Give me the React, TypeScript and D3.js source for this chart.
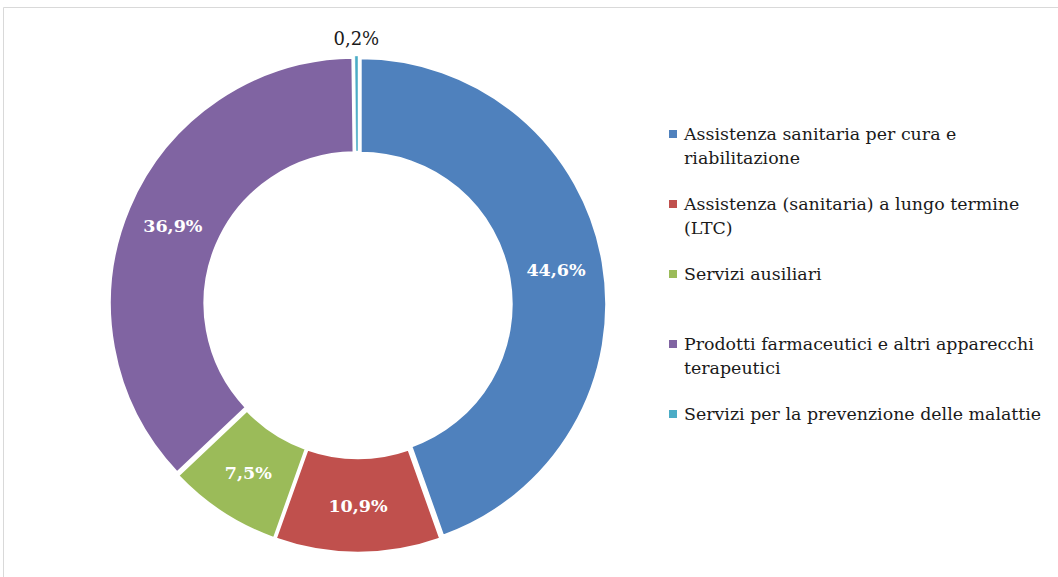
import { useEffect, useRef } from "react";
import * as d3 from "d3";

const categories = [
  "Assistenza sanitaria per cura e riabilitazione",
  "Assistenza (sanitaria) a lungo termine (LTC)",
  "Servizi ausiliari",
  "Prodotti farmaceutici e altri apparecchi terapeutici",
  "Servizi per la prevenzione delle malattie",
];
const shares = [44.6, 10.9, 7.5, 36.9, 0.2];
const colors = ["#4F81BD", "#C0504D", "#9BBB59", "#8064A2", "#4BACC6"];

const W = 1058;
const H = 577;
const cx = 358;
const cy = 304.5;
const outerR = 246;
const innerR = 151;
const explode = 2.5;
const serif = "'DejaVu Serif', serif";

export default function App() {
  const ref = useRef<SVGSVGElement>(null);

  useEffect(() => {
    const svg = d3.select(ref.current);
    svg.selectAll("*").remove();

    // thin frame, top and left only visible
    svg.append("path")
      .attr("d", `M3.5,${H} V7.5 H${W}`)
      .attr("fill", "none")
      .attr("stroke", "#d9d9d9")
      .attr("stroke-width", 1);

    const pie = d3.pie<number>().sort(null).value((d) => d);
    const arcs = pie(shares);
    const arc = d3.arc<d3.PieArcDatum<number>>().innerRadius(innerR).outerRadius(outerR);
    const shift = (d: d3.PieArcDatum<number>, r: number) => {
      const a = (d.startAngle + d.endAngle) / 2;
      return [Math.sin(a) * r, -Math.cos(a) * r];
    };

    const g = svg.append("g").attr("transform", `translate(${cx},${cy})`);
    g.selectAll("path")
      .data(arcs)
      .join("path")
      .attr("d", arc)
      .attr("fill", (_d, i) => colors[i])
      .attr("stroke", "#fff")
      .attr("stroke-width", (d) => (d.data < 1 ? 0.4 : 2.5))
      .attr("transform", (d) => {
        const [dx, dy] = shift(d, explode);
        return `translate(${dx},${dy})`;
      });

    const fmt = (v: number) => d3.format(".1f")(v).replace(".", ",") + "%";

    g.selectAll("text.lbl")
      .data(arcs)
      .join("text")
      .attr("class", "lbl")
      .attr("text-anchor", "middle")
      .attr("dominant-baseline", "central")
      .attr("font-family", serif)
      .attr("font-size", (d) => (d.data < 1 ? 18 : 17.5))
      .attr("font-weight", (d) => (d.data < 1 ? "normal" : "bold"))
      .attr("fill", (d) => (d.data < 1 ? "#1a1a1a" : "#fff"))
      .attr("x", (d) => (d.data < 1 ? shift(d, outerR + 20)[0] : arc.centroid(d)[0] + shift(d, explode)[0]))
      .attr("y", (d) => (d.data < 1 ? shift(d, outerR + 20)[1] : arc.centroid(d)[1] + shift(d, explode)[1]))
      .text((d) => fmt(d.data));

    // legend
    const lg = svg.append("g").attr("transform", "translate(669,0)");
    const maxW = 362;
    categories.forEach((name, i) => {
      const y0 = 134 + i * 70;
      lg.append("rect")
        .attr("x", 0)
        .attr("y", y0 - 4)
        .attr("width", 8)
        .attr("height", 8)
        .attr("fill", colors[i]);
      const t = lg.append("text")
        .attr("x", 15)
        .attr("y", y0)
        .attr("dominant-baseline", "central")
        .attr("font-family", serif)
        .attr("font-size", 17.4)
        .attr("fill", "#1a1a1a");
      const words = name.split(" ");
      let line: string[] = [];
      let span = t.append("tspan").attr("x", 15).attr("dy", 0);
      words.forEach((w) => {
        line.push(w);
        span.text(line.join(" "));
        if ((span.node() as SVGTSpanElement).getComputedTextLength() > maxW && line.length > 1) {
          line.pop();
          span.text(line.join(" "));
          line = [w];
          span = t.append("tspan").attr("x", 15).attr("dy", 24).text(w);
        }
      });
    });
  }, []);

  return (
    <svg
      ref={ref}
      width={W}
      height={H}
      style={{ position: "absolute", left: 0, top: 0, background: "#fff" }}
    />
  );
}
